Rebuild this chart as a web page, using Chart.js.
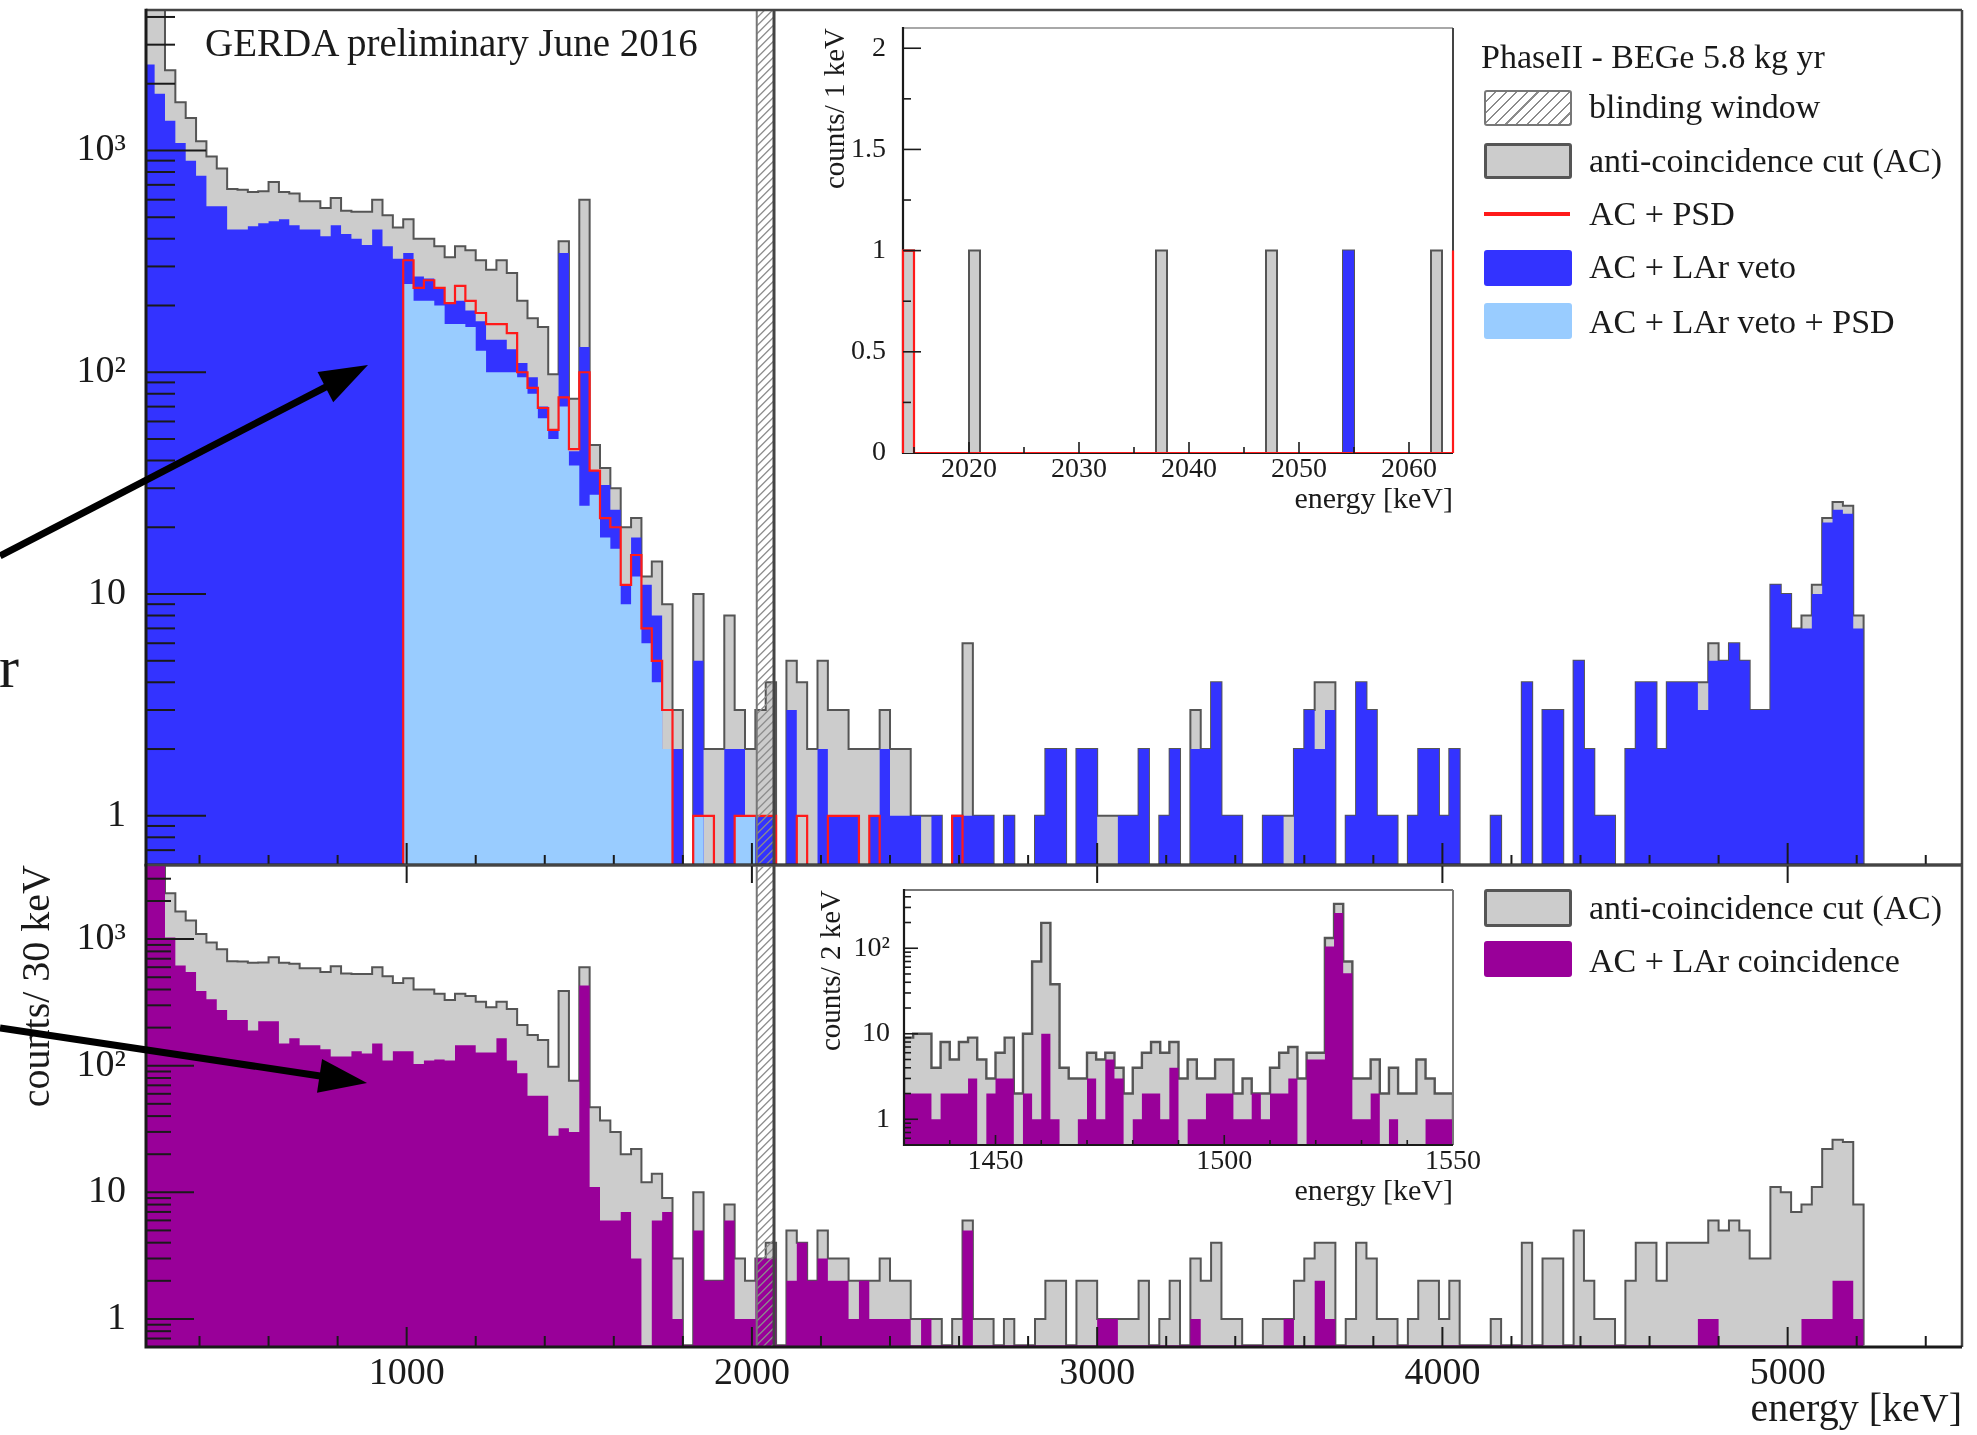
<!DOCTYPE html>
<html>
<head>
  <meta charset="utf-8" />
  <title>GERDA Phase II - BEGe spectrum</title>
  <style>
    html, body { margin: 0; padding: 0; background: #fff; }
    body { position: relative; width: 1977px; height: 1435px; overflow: hidden;
           font-family: "Liberation Serif", "Times New Roman", serif; color: #1a1a1a; }
    canvas { position: absolute; }
    .txt { position: absolute; white-space: nowrap; line-height: 1; }
    .leg { position: absolute; white-space: nowrap; font-size: 34px; line-height: 40px; }
    .sw { position: absolute; box-sizing: border-box; border-radius: 3px; }
    .hatch { background: #fff repeating-linear-gradient(135deg, #fff 0 6px, #8c8c8c 6px 7.5px); border: 2px solid #777; }
  </style>
</head>
<body>
  <canvas id="mainTop" width="1977" height="895" style="left:0;top:0"></canvas>
  <canvas id="mainBottom" width="1977" height="580" style="left:0;top:855px"></canvas>
  <canvas id="insetTop" width="680" height="520" style="left:790px;top:10px"></canvas>
  <canvas id="insetBottom" width="720" height="360" style="left:790px;top:870px"></canvas>

  <div class="txt" style="left:205px;top:23px;font-size:39px">GERDA preliminary June 2016</div>

  <!-- legend, upper pad -->
  <div class="leg" style="left:1481px;top:37px">PhaseII - BEGe 5.8 kg yr</div>
  <div class="sw hatch" style="left:1484px;top:90px;width:88px;height:36px"></div>
  <div class="leg" style="left:1589px;top:87px">blinding window</div>
  <div class="sw" style="left:1484px;top:143px;width:88px;height:36px;background:#ccc;border:3px solid #555"></div>
  <div class="leg" style="left:1589px;top:141px">anti-coincidence cut (AC)</div>
  <div class="sw" style="left:1484px;top:212px;width:86px;height:4px;background:#ff1a1a;border-radius:0"></div>
  <div class="leg" style="left:1589px;top:194px">AC + PSD</div>
  <div class="sw" style="left:1484px;top:250px;width:88px;height:36px;background:#3333ff"></div>
  <div class="leg" style="left:1589px;top:247px">AC + LAr veto</div>
  <div class="sw" style="left:1484px;top:303px;width:88px;height:36px;background:#99ccff"></div>
  <div class="leg" style="left:1589px;top:302px">AC + LAr veto + PSD</div>

  <!-- legend, lower pad -->
  <div class="sw" style="left:1484px;top:889px;width:88px;height:38px;background:#ccc;border:3px solid #555"></div>
  <div class="leg" style="left:1589px;top:888px">anti-coincidence cut (AC)</div>
  <div class="sw" style="left:1484px;top:941px;width:88px;height:36px;background:#990099"></div>
  <div class="leg" style="left:1589px;top:941px">AC + LAr coincidence</div>

  <svg id="arrows" width="1977" height="1435" style="position:absolute;left:0;top:0"></svg>
  <div class="txt" style="left:-1px;top:637px;font-size:60px">r</div>

  <script src="https://cdn.jsdelivr.net/npm/chart.js"></script>
  <script>
    // ---- main spectra, 30 keV bins, first bin 240-270 keV ----
    const binStart = 240;
    const binWidth = 30;
    const acCounts = [
      6500, 6000, 2300, 1650, 1400, 1100, 940, 830, 670, 665,
      650, 655, 720, 650, 640, 590, 590, 550, 610, 535,
      530, 530, 600, 510, 450, 490, 400, 400, 370, 330,
      370, 355, 320, 290, 320, 280, 210, 175, 160, 98,
      390, 76, 600, 47, 37, 30, 20, 22, 12, 14,
      9, 3, 0, 10, 2, 2, 8, 3, 2, 3,
      4, 0, 5, 4, 2, 5, 3, 3, 2, 2,
      2, 3, 2, 2, 1, 1, 1, 0, 1, 6,
      1, 1, 0, 1, 0, 0, 1, 2, 2, 0,
      2, 2, 1, 1, 1, 1, 2, 0, 1, 2,
      0, 3, 2, 4, 1, 1, 0, 0, 1, 1,
      1, 2, 3, 4, 4, 0, 1, 4, 3, 1,
      1, 0, 1, 2, 2, 1, 2, 0, 0, 0,
      1, 0, 0, 4, 0, 3, 3, 0, 5, 2,
      1, 1, 0, 2, 4, 4, 2, 4, 4, 4,
      4, 6, 5, 6, 5, 3, 3, 11, 10, 7,
      8, 11, 22, 26, 25, 8
    ];
    const vetoCounts = [
      2440, 1800, 1360, 1080, 900, 770, 560, 560, 440, 440,
      455, 470, 480, 490, 460, 440, 440, 410, 460, 420,
      400, 375, 440, 370, 325, 345, 270, 265, 240, 205,
      210, 190, 170, 140, 140, 127, 110, 95, 70, 55,
      345, 44, 130, 36, 31, 24, 11, 18, 11, 8,
      2, 2, 0, 5, 0, 0, 2, 2, 1, 1,
      1, 0, 3, 0, 0, 2, 1, 1, 1, 0,
      1, 2, 1, 1, 1, 0, 1, 0, 1, 1,
      1, 1, 0, 1, 0, 0, 1, 2, 2, 0,
      2, 2, 0, 0, 1, 1, 2, 0, 1, 2,
      0, 2, 2, 4, 1, 1, 0, 0, 1, 1,
      0, 2, 3, 2, 3, 0, 1, 4, 3, 1,
      1, 0, 1, 2, 2, 1, 2, 0, 0, 0,
      1, 0, 0, 4, 0, 3, 3, 0, 5, 2,
      1, 1, 0, 2, 4, 4, 2, 4, 4, 4,
      3, 5, 5, 6, 5, 3, 3, 11, 10, 7,
      7, 10, 21, 24, 23, 7
    ];
    const coincCounts = [
      4500, 4300, 1030, 620, 550, 390, 335, 275, 230, 230,
      190, 225, 225, 150, 165, 145, 145, 135, 118, 118,
      130, 125, 150, 110, 130, 130, 103, 110, 112, 110,
      145, 145, 127, 127, 165, 110, 87, 58, 58, 28,
      32, 30, 430, 11, 6, 6, 7, 3, 0, 6,
      7, 1, 0, 5, 2, 2, 6, 1, 1, 3,
      3, 0, 2, 4, 2, 3, 2, 2, 1, 2,
      1, 1, 1, 1, 0, 1, 0, 0, 0, 5,
      0, 0, 0, 0, 0, 0, 0, 0, 0, 0,
      0, 0, 1, 1, 0, 0, 0, 0, 0, 0,
      0, 1, 0, 0, 0, 0, 0, 0, 0, 0,
      1, 0, 0, 2, 1, 0, 0, 0, 0, 0,
      0, 0, 0, 0, 0, 0, 0, 0, 0, 0,
      0, 0, 0, 0, 0, 0, 0, 0, 0, 0,
      0, 0, 0, 0, 0, 0, 0, 0, 0, 0,
      1, 1, 0, 0, 0, 0, 0, 0, 0, 0,
      1, 1, 1, 2, 2, 1
    ];
    // PSD spectra start with the 990 keV bin
    const psdStart = 990;
    const acPsdCounts = [
      320, 240, 260, 240, 205, 245, 210, 185, 165, 165,
      150, 100, 85, 69, 55, 77, 45, 100, 36, 22,
      20, 11, 15, 7, 5, 3, 0, 0, 1, 1,
      0, 0, 1, 1, 1, 1, 0, 0, 1, 0,
      0, 1, 1, 1, 0, 1, 0, 0, 0, 0,
      0, 0, 0, 1
    ];
    const vetoPsdCounts = [
      250, 210, 210, 200, 165, 165, 160, 125, 100, 100,
      100, 95, 80, 62, 50, 70, 38, 25, 28, 18,
      16, 9, 12, 6, 4, 2, 0, 0, 1, 0,
      0, 0, 1, 1
    ];
    const blindWindow = [2014, 2064];
    const energyTicks = [1000, 2000, 3000, 4000, 5000];
    const decadeTicks = [1, 10, 100, 1000];

    // ---- upper inset: 1 keV bins from 2014 keV ----
    const qStart = 2014;
    const qAC = [
      1, 0, 0, 0, 0, 0, 1, 0, 0, 0,
      0, 0, 0, 0, 0, 0, 0, 0, 0, 0,
      0, 0, 0, 1, 0, 0, 0, 0, 0, 0,
      0, 0, 0, 1, 0, 0, 0, 0, 0, 0,
      1, 0, 0, 0, 0, 0, 0, 0, 1, 0,
      0
    ];
    const qVeto = [
      0, 0, 0, 0, 0, 0, 0, 0, 0, 0,
      0, 0, 0, 0, 0, 0, 0, 0, 0, 0,
      0, 0, 0, 0, 0, 0, 0, 0, 0, 0,
      0, 0, 0, 0, 0, 0, 0, 0, 0, 0,
      1, 0, 0, 0, 0, 0, 0, 0, 0, 0,
      0
    ];
    const qPsd = [
      1, 0, 0, 0, 0, 0, 0, 0, 0, 0,
      0, 0, 0, 0, 0, 0, 0, 0, 0, 0,
      0, 0, 0, 0, 0, 0, 0, 0, 0, 0,
      0, 0, 0, 0, 0, 0, 0, 0, 0, 0,
      0, 0, 0, 0, 0, 0, 0, 0, 0, 0,
      1
    ];
    const qTicks = [2020, 2030, 2040, 2050, 2060];
    const qCountTicks = [0, 0.5, 1, 1.5, 2];

    // ---- lower inset: 2 keV bins from 1430 keV (40K / 42K lines) ----
    const kStart = 1430;
    const kWidth = 2;
    const kAC = [
      9, 10, 10, 4, 8, 5, 8, 9, 5, 3,
      6, 9, 2, 10, 70, 198, 38, 4, 3, 3,
      6, 5, 6, 4, 2, 4, 6, 8, 6, 8,
      3, 5, 3, 3, 5, 5, 2, 3, 2, 2,
      4, 6, 7, 3, 6, 6, 132, 330, 70, 3,
      3, 5, 2, 4, 2, 2, 5, 3, 2, 2
    ];
    const kCoinc = [
      2, 2, 2, 1, 2, 2, 2, 3, 0, 2,
      3, 3, 0, 2, 1, 10, 1, 0, 0, 1,
      3, 1, 5, 3, 0, 1, 2, 2, 1, 4,
      0, 1, 1, 2, 2, 2, 1, 1, 2, 1,
      2, 2, 3, 0, 5, 5, 105, 258, 51, 1,
      1, 2, 0, 1, 0, 0, 0, 1, 1, 1
    ];
    const kTicks = [1450, 1500, 1550];

    const SERIF = '"Liberation Serif", "Times New Roman", serif';
    const INK = '#1a1a1a';
    const C = { acFill: '#cccccc', acLine: '#555555', veto: '#3333ff', vetoPsd: '#99ccff', psd: '#ff1a1a', coinc: '#990099' };

    // histogram outline as a stepped line: low edges, closed down to the floor
    function hist(start, width, counts, floor) {
      const pts = [{ x: start, y: floor }];
      counts.forEach((c, i) => pts.push({ x: start + i * width, y: c > 0 ? c : floor }));
      pts.push({ x: start + counts.length * width, y: floor });
      return pts;
    }
    function histSet(points, fill, line, lw, order, clip) {
      return {
        data: points, stepped: 'before', order, clip: clip === undefined ? 0 : clip,
        fill: fill ? 'start' : false,
        backgroundColor: fill || 'rgba(0,0,0,0)',
        borderColor: line || 'rgba(0,0,0,0)',
        borderWidth: lw, pointRadius: 0, borderJoinStyle: 'miter'
      };
    }

    function linTicks(lo, hi, major, minor, majLen, minLen, below) {
      const out = [];
      for (let v = Math.ceil(lo / minor - 1e-9) * minor; v <= hi + 1e-9; v += minor) {
        const isMaj = Math.abs(v / major - Math.round(v / major)) < 1e-6;
        out.push({ v, len: isMaj ? majLen : minLen, below: isMaj ? below : 0 });
      }
      return out;
    }
    function logTicks(lo, hi, majLen, minLen) {
      const out = [];
      for (let e = Math.floor(Math.log10(lo)); e <= Math.ceil(Math.log10(hi)); e++) {
        for (let m = 1; m <= 9; m++) {
          const v = m * Math.pow(10, e);
          if (v >= lo && v <= hi) out.push({ v, len: m === 1 ? majLen : minLen });
        }
      }
      return out;
    }
    function decadeLabel(v) {
      return v === 1 ? '1' : v === 10 ? '10' : v === 100 ? '10\u00b2' : v === 1000 ? '10\u00b3' : '';
    }

    // ROOT-like frame: inner ticks, frame lines, optional hatched blinding window
    function frameFor(cfg) {
      const seg = (ctx, x0, y0, x1, y1) => { ctx.beginPath(); ctx.moveTo(x0, y0); ctx.lineTo(x1, y1); ctx.stroke(); };
      const box = (chart) => {
        const { ctx, chartArea: a } = chart;
        ctx.save();
        ctx.lineWidth = cfg.frameW;
        ctx.strokeStyle = cfg.frameColor; seg(ctx, a.left, a.top, a.right, a.top);
        ctx.strokeStyle = cfg.rightColor || cfg.frameColor; seg(ctx, a.right, a.top, a.right, a.bottom);
        ctx.strokeStyle = INK; ctx.lineWidth = cfg.axisW;
        ctx.beginPath();
        ctx.moveTo(a.left, a.top - cfg.frameW / 2); ctx.lineTo(a.left, a.bottom); ctx.lineTo(a.right, a.bottom);
        ctx.stroke();
        ctx.restore();
      };
      return {
        id: 'rootFrame',
        beforeDatasetsDraw(chart) {
          if (!cfg.white) return;
          const a = chart.chartArea, ctx = chart.ctx;
          ctx.save();
          ctx.fillStyle = '#fff';
          ctx.fillRect(a.left, a.top, a.right - a.left, a.bottom - a.top);
          ctx.restore();
          if (cfg.frameFirst) box(chart);
        },
        afterDatasetsDraw(chart) {
          const { ctx, chartArea: a } = chart;
          const sx = chart.scales.x, sy = chart.scales.y;
          ctx.save();
          if (cfg.blind) {
            const x0 = sx.getPixelForValue(cfg.blind[0]), x1 = sx.getPixelForValue(cfg.blind[1]);
            const w = x1 - x0;
            ctx.save();
            ctx.beginPath(); ctx.rect(x0, a.top, w, a.bottom - a.top); ctx.clip();
            ctx.strokeStyle = '#8c8c8c'; ctx.lineWidth = 1.3;
            for (let s = a.top - w; s < a.bottom + w; s += 8) seg(ctx, x0, s + w, x1, s);
            ctx.restore();
            ctx.strokeStyle = '#777'; ctx.lineWidth = 2; seg(ctx, x0, a.top, x0, a.bottom);
            ctx.strokeStyle = '#444'; ctx.lineWidth = 3; seg(ctx, x1, a.top, x1, a.bottom);
          }
          ctx.strokeStyle = INK; ctx.lineWidth = cfg.tickW;
          cfg.xTicks.forEach(t => { const p = sx.getPixelForValue(t.v); seg(ctx, p, a.bottom + (t.below || 0), p, a.bottom - t.len); });
          cfg.yTicks.forEach(t => { const p = sy.getPixelForValue(t.v); seg(ctx, a.left, p, a.left + t.len, p); });
          ctx.restore();
          if (!cfg.frameFirst) box(chart);
        }
      };
    }

    function options(padding, x, y) {
      return {
        responsive: false, animation: false, events: [],
        layout: { padding },
        plugins: { legend: { display: false }, tooltip: { enabled: false } },
        scales: { x, y }
      };
    }
    function fixTicks(values) { return s => { s.ticks = values.map(v => ({ value: v })); }; }
    function fixWidth(w) { return s => { s.width = w; s.paddingTop = 0; s.paddingBottom = 0; }; }
    function fixHeight(h) { return s => { s.height = h; s.paddingLeft = 0; s.paddingRight = 0; }; }
    const noGrid = { display: false, drawTicks: false };

    const xMin = 245, xMax = 5505;

    // ---------------- upper pad: AC / LAr veto / PSD ----------------
    const topMin = 0.6, topMax = 4300;
    new Chart(document.getElementById('mainTop'), {
      type: 'line',
      data: { datasets: [
        histSet(hist(binStart, binWidth, acCounts, topMin), C.acFill, C.acLine, 2, 4),
        histSet(hist(binStart, binWidth, vetoCounts, topMin), C.veto, null, 0, 3),
        histSet(hist(psdStart, binWidth, vetoPsdCounts, topMin), C.vetoPsd, null, 0, 2),
        histSet(hist(psdStart, binWidth, acPsdCounts, topMin), null, C.psd, 2.2, 1)
      ] },
      options: options({ top: 10, right: 15, bottom: 30, left: 0 },
        { type: 'linear', min: xMin, max: xMax, display: false },
        { type: 'logarithmic', min: topMin, max: topMax,
          afterBuildTicks: fixTicks(decadeTicks), afterFit: fixWidth(146),
          grid: noGrid, border: { display: false },
          ticks: { font: { family: SERIF, size: 38 }, color: INK, padding: 20, callback: v => decadeLabel(v) } }),
      plugins: [frameFor({
        blind: blindWindow, tickW: 2, frameColor: '#444', frameW: 2.5, axisW: 3,
        xTicks: linTicks(400, 5400, 1000, 200, 22, 10, 18),
        yTicks: logTicks(topMin, topMax, 60, 29)
      })]
    });

    // ---------------- lower pad: AC / LAr coincidence ----------------
    const botMin = 0.62, botMax = 3850;
    new Chart(document.getElementById('mainBottom'), {
      type: 'line',
      data: { datasets: [
        histSet(hist(binStart, binWidth, acCounts, botMin), C.acFill, C.acLine, 2, 2),
        histSet(hist(binStart, binWidth, coincCounts, botMin), C.coinc, null, 0, 1)
      ] },
      options: options({ top: 10, right: 15, bottom: 0, left: 0 },
        { type: 'linear', min: xMin, max: xMax,
          afterBuildTicks: fixTicks(energyTicks), afterFit: fixHeight(88),
          grid: noGrid, border: { display: false },
          ticks: { font: { family: SERIF, size: 38 }, color: INK, padding: 4, maxRotation: 0, autoSkip: false, callback: v => String(v) },
          title: { display: true, text: 'energy [keV]', align: 'end', color: INK,
                   font: { family: SERIF, size: 40 }, padding: { top: 0, bottom: 1 } } },
        { type: 'logarithmic', min: botMin, max: botMax,
          afterBuildTicks: fixTicks(decadeTicks), afterFit: fixWidth(146),
          grid: noGrid, border: { display: false },
          ticks: { font: { family: SERIF, size: 38 }, color: INK, padding: 20, callback: v => decadeLabel(v) },
          title: { display: true, text: 'counts/ 30 keV', align: 'end', color: INK,
                   font: { family: SERIF, size: 40 }, padding: { top: 14, bottom: 0 } } }),
      plugins: [frameFor({
        blind: blindWindow, tickW: 2, frameColor: '#444', frameW: 2.5, axisW: 3,
        xTicks: linTicks(400, 5400, 1000, 200, 20, 11, 0),
        yTicks: logTicks(botMin, botMax, 48, 25)
      })]
    });

    // ---------------- upper inset: counts / 1 keV near Qbb ----------------
    new Chart(document.getElementById('insetTop'), {
      type: 'line',
      data: { datasets: [
        histSet(hist(qStart, 1, qAC, 0), C.acFill, C.acLine, 2, 3),
        histSet(hist(qStart, 1, qVeto, 0), C.veto, null, 0, 2),
        histSet(hist(qStart, 1, qPsd, 0), null, C.psd, 2.2, 1, { left: 2, top: 0, right: 2, bottom: 0 })
      ] },
      options: options({ top: 18, right: 17, bottom: 0, left: 0 },
        { type: 'linear', min: 2014, max: 2064,
          afterBuildTicks: fixTicks(qTicks), afterFit: fixHeight(77),
          grid: noGrid, border: { display: false },
          ticks: { font: { family: SERIF, size: 28 }, color: INK, padding: 0, maxRotation: 0, autoSkip: false, callback: v => String(v) },
          title: { display: true, text: 'energy [keV]', align: 'end', color: INK,
                   font: { family: SERIF, size: 30 }, padding: { top: 0, bottom: 12 } } },
        { type: 'linear', min: 0, max: 2.1,
          afterBuildTicks: fixTicks(qCountTicks), afterFit: fixWidth(113),
          grid: noGrid, border: { display: false },
          ticks: { font: { family: SERIF, size: 28 }, color: INK, padding: 17, callback: v => String(v) },
          title: { display: true, text: 'counts/ 1 keV', align: 'end', color: INK,
                   font: { family: SERIF, size: 29 }, padding: { top: 29, bottom: 0 } } }),
      plugins: [frameFor({
        white: true, frameFirst: true, tickW: 1.6, frameColor: '#a8a8a8', rightColor: '#444', frameW: 2, axisW: 2.2,
        xTicks: linTicks(2015, 2060, 10, 5, 11, 6, 0),
        yTicks: linTicks(0.25, 2, 0.5, 0.25, 18, 8, 0)
      })]
    });

    // ---------------- lower inset: counts / 2 keV around the K lines ----------------
    const kMin = 0.5, kMax = 480;
    new Chart(document.getElementById('insetBottom'), {
      type: 'line',
      data: { datasets: [
        histSet(hist(kStart, kWidth, kAC, kMin), C.acFill, C.acLine, 2.4, 2),
        histSet(hist(kStart, kWidth, kCoinc, kMin), C.coinc, null, 0, 1)
      ] },
      options: options({ top: 20, right: 57, bottom: 0, left: 0 },
        { type: 'linear', min: kStart, max: 1550,
          afterBuildTicks: fixTicks(kTicks), afterFit: fixHeight(85),
          grid: noGrid, border: { display: false },
          ticks: { font: { family: SERIF, size: 28 }, color: INK, padding: 0, maxRotation: 0, autoSkip: false, callback: v => String(v) },
          title: { display: true, text: 'energy [keV]', align: 'end', color: INK,
                   font: { family: SERIF, size: 30 }, padding: { top: 0, bottom: 20 } } },
        { type: 'logarithmic', min: kMin, max: kMax,
          afterBuildTicks: fixTicks([1, 10, 100]), afterFit: fixWidth(114),
          grid: noGrid, border: { display: false },
          ticks: { font: { family: SERIF, size: 28 }, color: INK, padding: 14, callback: v => decadeLabel(v) },
          title: { display: true, text: 'counts/ 2 keV', align: 'end', color: INK,
                   font: { family: SERIF, size: 29 }, padding: { top: 25, bottom: 0 } } }),
      plugins: [frameFor({
        white: true, tickW: 1.6, frameColor: '#777', frameW: 2, axisW: 2.2,
        xTicks: linTicks(1440, 1550, 50, 10, 10, 5, 0),
        yTicks: logTicks(kMin, kMax, 14, 7)
      })]
    });

    // ---------------- annotation arrows ----------------
    const arrowLines = [[0, 556, 368, 365], [0, 1028, 367, 1083]];
    const svg = document.getElementById('arrows');
    const NS = 'http://www.w3.org/2000/svg';
    arrowLines.forEach(([x0, y0, x1, y1]) => {
      const dx = x1 - x0, dy = y1 - y0, len = Math.hypot(dx, dy);
      const ux = dx / len, uy = dy / len, hl = 48, hw = 17;
      const bx = x1 - ux * hl, by = y1 - uy * hl;
      const ln = document.createElementNS(NS, 'line');
      ln.setAttribute('x1', x0); ln.setAttribute('y1', y0);
      ln.setAttribute('x2', bx + ux * 4); ln.setAttribute('y2', by + uy * 4);
      ln.setAttribute('stroke', '#000'); ln.setAttribute('stroke-width', 7);
      svg.appendChild(ln);
      const head = document.createElementNS(NS, 'polygon');
      head.setAttribute('points', `${x1},${y1} ${bx - uy * hw},${by + ux * hw} ${bx + uy * hw},${by - ux * hw}`);
      head.setAttribute('fill', '#000');
      svg.appendChild(head);
    });
  </script>
</body>
</html>
